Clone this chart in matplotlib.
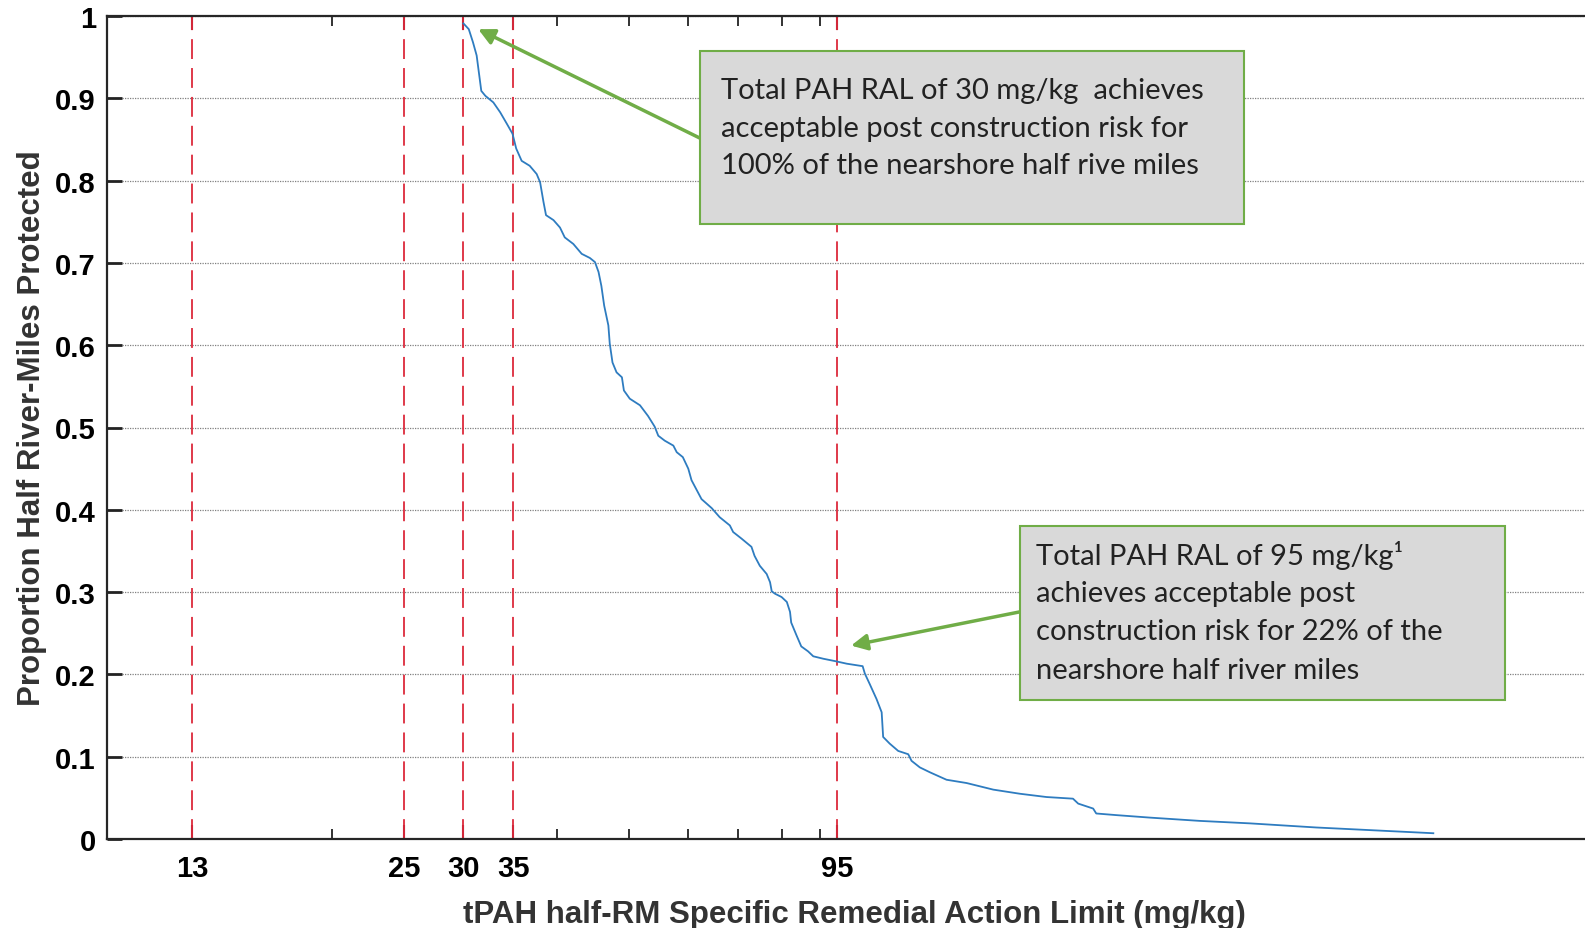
import numpy as np
import matplotlib.pyplot as plt
from matplotlib.patches import Rectangle
from matplotlib.ticker import NullFormatter

# proportion of half river-miles protected vs. RAL
ral_x = [30.0, 30.5, 30.9, 31.25, 31.5, 31.7, 32.1, 32.9, 33.6, 34.3,
         34.9, 35.3, 35.9, 36.8, 37.6, 38.0, 38.4, 38.7, 39.6, 40.4,
         41.0, 42.1, 43.2, 44.3, 45.0, 45.5, 45.9, 46.3, 46.9, 47.1,
         47.5, 48.1, 48.9, 49.2, 50.1, 51.7, 53.0, 54.1, 54.7, 55.8,
         57.3, 57.9, 59.0, 60.0, 60.6, 61.5, 62.5, 64.5, 66.1, 68.2,
         68.9, 70.7, 72.9, 73.6, 74.8, 76.4, 77.2, 77.6, 78.4, 80.0,
         81.3, 82.1, 82.4, 83.8, 85.0, 86.8, 88.2, 91.0, 94.5, 97.8,
         102.7, 103.4, 105.0, 107.2, 108.9, 109.4, 111.6, 114.6, 118.2, 119.4,
         122.5, 126.4, 133.0, 141.5, 153.6, 166.7, 181.0, 196.4, 199.6, 209.0,
         211.0, 224.6, 248.9, 290.4, 338.8, 415.6, 510.9, 596.4]
protected = [0.991, 0.984, 0.968, 0.952, 0.928, 0.909, 0.903, 0.895, 0.883, 0.869,
             0.857, 0.839, 0.824, 0.818, 0.808, 0.798, 0.774, 0.758, 0.752, 0.743,
             0.731, 0.723, 0.711, 0.706, 0.701, 0.689, 0.672, 0.648, 0.624, 0.602,
             0.579, 0.567, 0.561, 0.545, 0.535, 0.527, 0.514, 0.501, 0.490, 0.484,
             0.478, 0.470, 0.464, 0.450, 0.436, 0.425, 0.413, 0.402, 0.391, 0.381,
             0.373, 0.365, 0.355, 0.344, 0.332, 0.322, 0.312, 0.301, 0.298, 0.294,
             0.288, 0.276, 0.263, 0.247, 0.234, 0.228, 0.222, 0.219, 0.216, 0.213,
             0.210, 0.201, 0.188, 0.170, 0.154, 0.124, 0.116, 0.107, 0.103, 0.095,
             0.087, 0.081, 0.072, 0.068, 0.060, 0.055, 0.051, 0.049, 0.043, 0.037,
             0.031, 0.029, 0.026, 0.022, 0.019, 0.014, 0.010, 0.007]

ral_lines = [13, 25, 30, 35, 95]
ral_labels = ['13', '25', '30', '35', '95']
minor_ticks = [20, 40, 50, 60, 70, 80, 90]
y_ticks = [0, 0.1, 0.2, 0.3, 0.4, 0.5, 0.6, 0.7, 0.8, 0.9, 1]
y_labels = ['0', '0.1', '0.2', '0.3', '0.4', '0.5', '0.6', '0.7', '0.8', '0.9', '1']

note_30 = ['Total PAH RAL of 30 mg/kg  achieves',
           'acceptable post construction risk for',
           '100% of the nearshore half rive miles']
note_95 = ['Total PAH RAL of 95 mg/kg\u00b9',
           'achieves acceptable post',
           'construction risk for 22% of the',
           'nearshore half river miles']

W, H = 1585, 929
fig = plt.figure(figsize=(W / 100, H / 100), dpi=100)
ax = fig.add_axes([107 / W, (H - 840) / H, 1494 / W, 823 / H])

bold = dict(family='Liberation Sans', weight='bold')
green = '#70ad47'

ax.yaxis.grid(True, linestyle=(0, (1, 1)), color='#808080', lw=0.9)
ax.set_axisbelow(True)

for v in ral_lines:
    ax.axvline(v, color='#dc2a3c', lw=1.3, ls=(0, (11, 5)), zorder=2)

ax.plot(ral_x, protected, color='#2e7cc0', lw=1.3, zorder=3)

ax.set_xscale('log')
ax.set_xlim(10, 1000)
ax.set_ylim(0, 1)

ax.set_xticks(ral_lines)
ax.set_xticklabels(ral_labels, fontsize=21, **bold)
ax.set_xticks(minor_ticks, minor=True)
ax.xaxis.set_minor_formatter(NullFormatter())
ax.set_yticks(y_ticks)
ax.set_yticklabels(y_labels, fontsize=21, **bold)

ax.tick_params(axis='both', which='both', direction='in', top=True, right=True)
ax.tick_params(axis='x', which='major', length=10, width=1.5, color='#7a1424', pad=11)
ax.tick_params(axis='x', which='minor', length=7, width=1.3, color='#222222')
ax.tick_params(axis='y', which='major', length=11, width=2, color='#222222', pad=8)

for s in ax.spines.values():
    s.set_linewidth(1.6)
    s.set_color('#262626')

ax.set_xlabel('tPAH half-RM Specific Remedial Action Limit (mg/kg)', fontsize=22.5, color='#333333', **bold)
ax.set_ylabel('Proportion Half River-Miles Protected', fontsize=22.5, color='#333333', **bold)
ax.xaxis.set_label_coords(0.5, -0.073)
ax.yaxis.set_label_coords(-0.040, 0.5)

# annotation boxes
ax.add_patch(Rectangle((0.397, 0.747), 0.364, 0.210, transform=ax.transAxes,
                       facecolor='#d9d9d9', edgecolor=green, lw=1.5, zorder=5))
ax.add_patch(Rectangle((0.611, 0.169), 0.325, 0.211, transform=ax.transAxes,
                       facecolor='#d9d9d9', edgecolor=green, lw=1.5, zorder=5))

for i, line in enumerate(note_30):
    ax.text(0.4107, 0.910 - i * 0.0455, line, transform=ax.transAxes, fontsize=21,
            family='Lato', color='#222222', va='center', ha='left', zorder=6)
for i, line in enumerate(note_95):
    ax.text(0.6218, 0.346 - i * 0.0467, line, transform=ax.transAxes, fontsize=21,
            family='Lato', color='#222222', va='center', ha='left', zorder=6)

arrow = dict(arrowstyle='-|>', color=green, lw=2.5, mutation_scale=24, shrinkA=0, shrinkB=0)
ax.annotate('', xy=(31.4, 0.984), xytext=(0.397, 0.8515), textcoords='axes fraction',
            arrowprops=arrow, zorder=4)
ax.annotate('', xy=(99.1, 0.235), xytext=(0.611, 0.276), textcoords='axes fraction',
            arrowprops=arrow, zorder=4)

fig.savefig('out.png', dpi=100)
